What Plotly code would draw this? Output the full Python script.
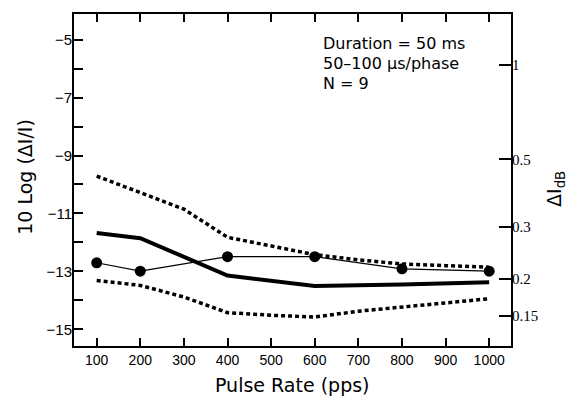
import numpy as np
import plotly.graph_objects as go

# Pulse rates (pps)
rates_mean = [100, 200, 400, 600, 800, 1000]
rates_band = [100, 200, 300, 400, 500, 600, 700, 800, 900, 1000]
rates_subj = [100, 200, 400, 600, 800, 1000]

# 10 log(dI/I) values
mean_db = [-11.67, -11.85, -13.14, -13.50, -13.45, -13.37]
upper_db = [-9.71, -10.28, -10.85, -11.82, -12.12, -12.42, -12.60, -12.74, -12.80, -12.85]
lower_db = [-13.31, -13.48, -13.88, -14.42, -14.51, -14.57, -14.37, -14.22, -14.09, -13.94]
subj_db = [-12.70, -12.99, -12.49, -12.49, -12.91, -12.99]

# Left axis ticks
left_ticks = [-15, -13, -11, -9, -7, -5]
left_labels = ["\u221215", "\u221213", "\u221211", "\u22129", "\u22127", "\u22125"]
# Right axis: delta I in dB
right_labels = ["1", "0.5", "0.3", "0.2", "0.15"]
right_vals = [1.0, 0.5, 0.3, 0.2, 0.15]
right_pos = [10 * np.log10(10 ** (d / 10) - 1) for d in right_vals]

x_ticks = [100, 200, 300, 400, 500, 600, 700, 800, 900, 1000]

YR = [-15.57, -4.12]
XR = [48, 1050]

fig = go.Figure()
dot = "4px,3px"
fig.add_trace(go.Scatter(x=rates_band, y=upper_db, mode="lines",
                         line=dict(color="black", width=3.5, dash=dot)))
fig.add_trace(go.Scatter(x=rates_band, y=lower_db, mode="lines",
                         line=dict(color="black", width=3.5, dash=dot)))
fig.add_trace(go.Scatter(x=rates_mean, y=mean_db, mode="lines",
                         line=dict(color="black", width=4)))
fig.add_trace(go.Scatter(x=rates_subj, y=subj_db, mode="lines+markers",
                         line=dict(color="black", width=1.2),
                         marker=dict(color="black", size=11)))
# invisible trace to activate right axis
fig.add_trace(go.Scatter(x=[XR[0]], y=[YR[0]], yaxis="y2", mode="markers",
                         marker=dict(opacity=0), hoverinfo="skip"))

fig.update_layout(
    width=569, height=398,
    margin=dict(l=74, r=58, t=12, b=52),
    paper_bgcolor="white", plot_bgcolor="white",
    showlegend=False,
    xaxis=dict(range=XR, tickvals=x_ticks, ticks="inside", ticklen=8, tickwidth=2,
               tickcolor="black", showline=True, linewidth=2, linecolor="black",
               mirror="ticks", showgrid=False, zeroline=False,
               tickfont=dict(family="Liberation Sans", size=14, color="black")),
    yaxis=dict(range=YR, tickvals=left_ticks, ticktext=left_labels,
               ticks="inside", ticklen=9, tickwidth=2, tickcolor="black",
               ticklabelstandoff=-3,
               minor=dict(tickvals=[-14, -12, -10, -8, -6], ticks="inside", ticklen=9,
                          tickwidth=2, tickcolor="black"),
               showline=True, linewidth=2, linecolor="black", mirror=True,
               showgrid=False, zeroline=False,
               tickfont=dict(family="Liberation Sans", size=15, color="black")),
    yaxis2=dict(range=YR, overlaying="y", side="right", tickvals=right_pos,
                ticktext=right_labels, ticks="inside", ticklen=12, tickwidth=2,
                tickcolor="black", showline=False, showgrid=False, zeroline=False,
                tickfont=dict(family="Liberation Serif", size=15, color="black")),
    font=dict(family="DejaVu Sans", color="black"),
)

ann = [
    dict(text="Pulse Rate (pps)", x=0.5, y=-(385 - 346) / 334, xref="paper",
         yref="paper", xanchor="center", yanchor="middle", font=dict(size=19),
         showarrow=False),
    dict(text="10 Log (\u0394I/I)", x=-0.112, y=0.51, xref="paper", yref="paper",
         textangle=-90, xanchor="center", yanchor="middle", font=dict(size=19),
         showarrow=False),
    dict(text="\u0394I<sub>dB</sub>", x=(556 - 74) / 437, y=0.473, xref="paper",
         yref="paper", textangle=-90, xanchor="center", yanchor="middle",
         font=dict(size=19), showarrow=False),
]
info = ["Duration = 50 ms", "50\u2013100 \u03bcs/phase", "N = 9"]
for i, t in enumerate(info):
    ann.append(dict(text=t, x=(321 - 74) / 437, y=(346 - (42 + 20 * i)) / 334,
                    xref="paper", yref="paper", xanchor="left", yanchor="middle",
                    font=dict(size=16), showarrow=False))
fig.update_layout(annotations=ann)

fig.write_html("out.html")
